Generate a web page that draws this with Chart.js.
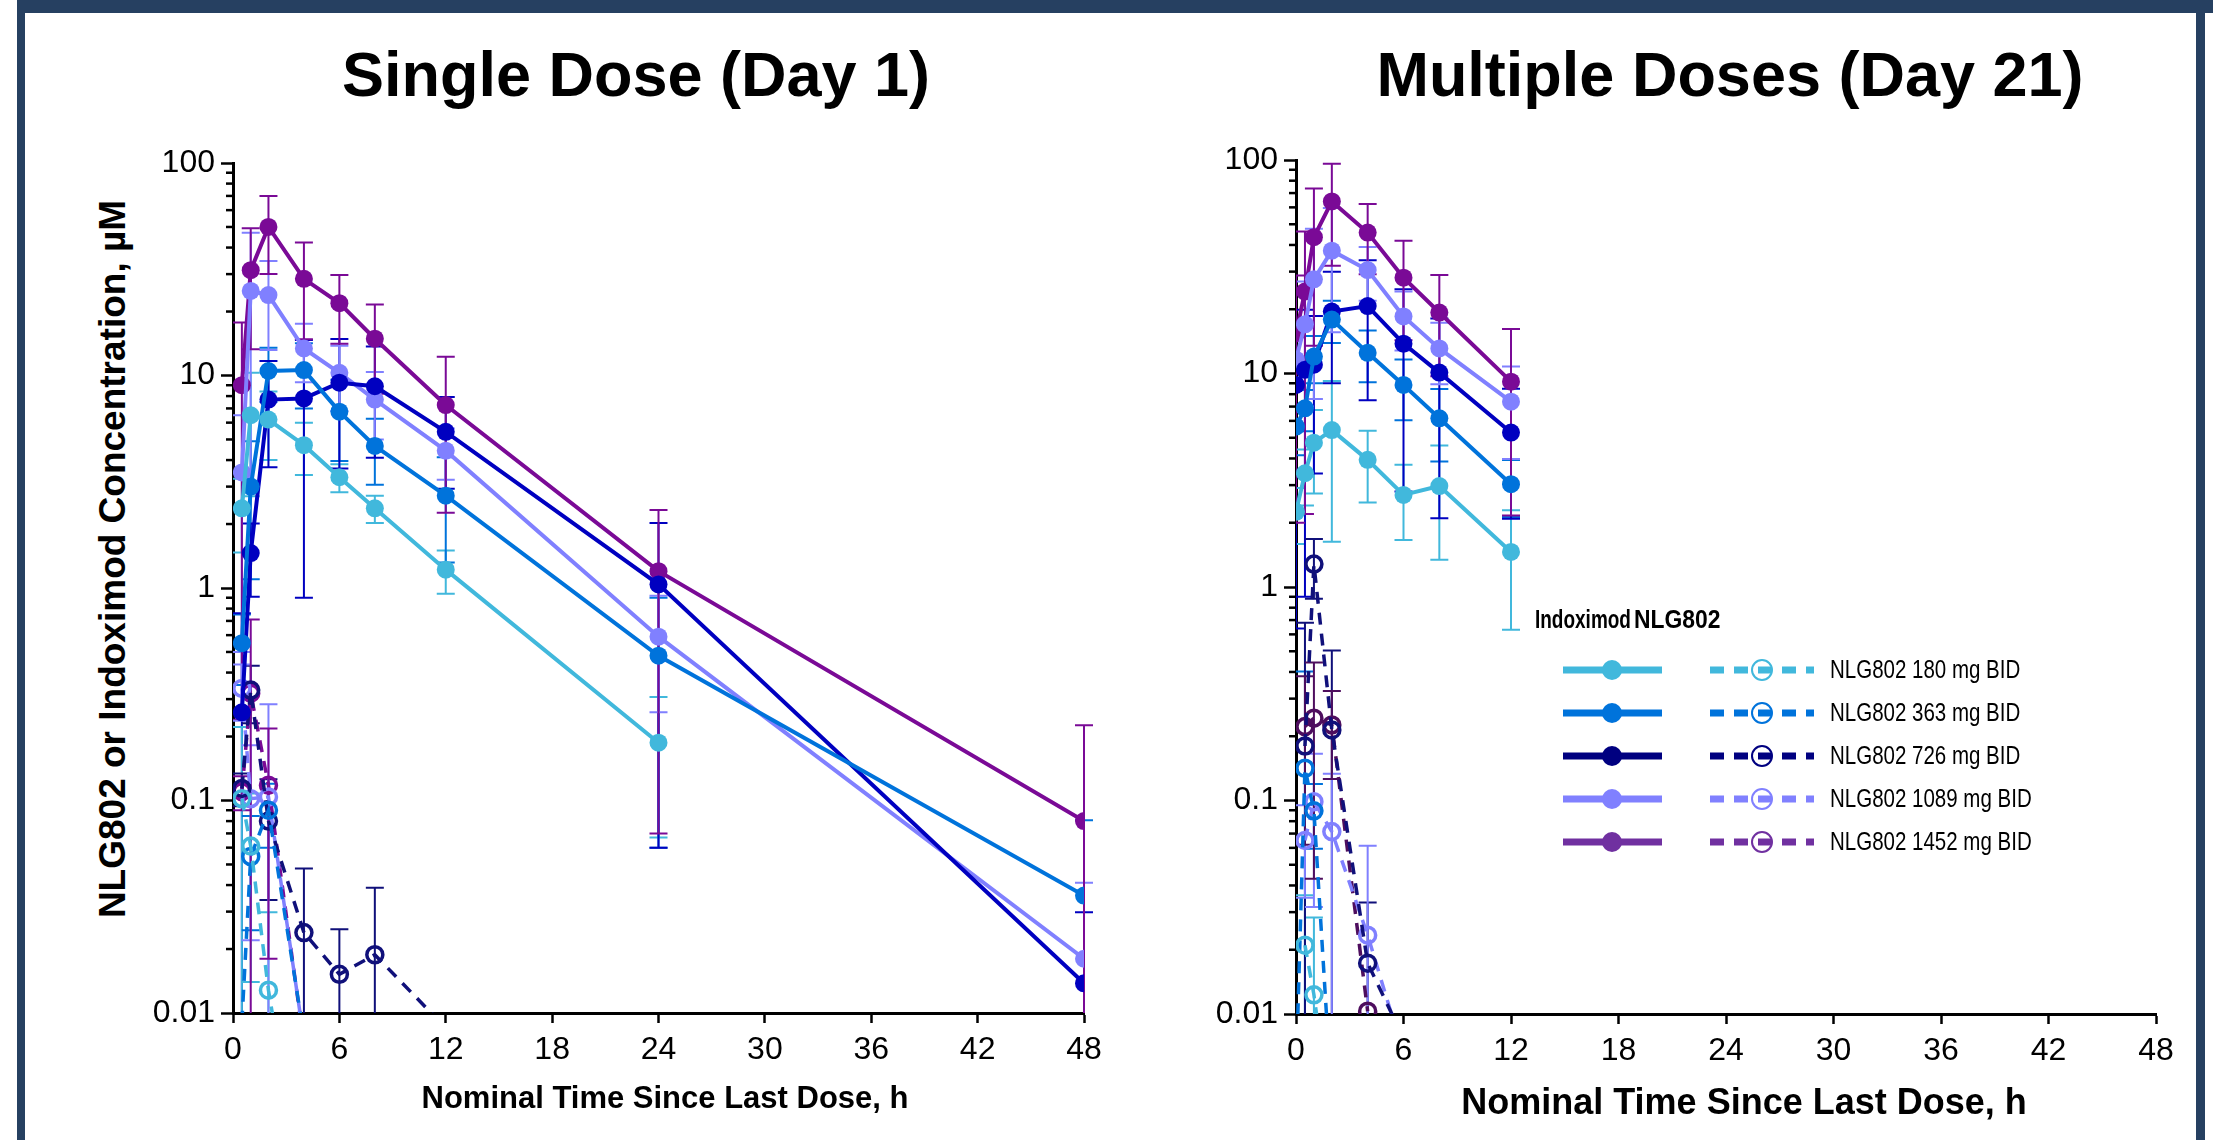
<!DOCTYPE html>
<html>
<head>
<meta charset="utf-8">
<title>NLG802 and Indoximod concentrations</title>
<script src="https://cdn.jsdelivr.net/npm/chart.js@4.4.1/dist/chart.umd.min.js"></script>
<style>
body { margin: 0; width: 2213px; height: 1140px; position: relative; overflow: hidden; background: #fff; font-family: "Liberation Sans", Arial, sans-serif; }
.frame { position: absolute; background: #264061; }
.title { position: absolute; top: 43px; width: 900px; text-align: center; font-weight: bold; font-size: 63px; line-height: 63px; color: #000; white-space: nowrap; }
.ytitle { position: absolute; left: 113px; top: 559px; transform: translate(-50%, -50%) rotate(-90deg); font-weight: bold; font-size: 37px; color: #000; white-space: nowrap; }
.xtitle { position: absolute; transform: translate(-50%, -50%); font-weight: bold; color: #000; white-space: nowrap; }
canvas { position: absolute; top: 0; }
</style>
</head>
<body>
<div class="frame" style="left:17px; top:0; width:2196px; height:13px;"></div>
<div class="frame" style="left:17px; top:0; width:8px; height:1140px;"></div>
<div class="frame" style="left:2196px; top:0; width:9px; height:1140px;"></div>
<div class="title" style="left:186px;">Single Dose (Day 1)</div>
<div class="title" style="left:1280px;">Multiple Doses (Day 21)</div>
<div class="ytitle">NLG802 or Indoximod Concentration, µM</div>
<canvas id="day1" width="1130" height="1140" style="left:0;"></canvas>
<canvas id="day21" width="1073" height="1140" style="left:1140px;"></canvas>
<div class="xtitle" style="left:665px; top:1098px; font-size:31px;">Nominal Time Since Last Dose, h</div>
<div class="xtitle" style="left:1744px; top:1102px; font-size:36px;">Nominal Time Since Last Dose, h</div>
<script>
// sampling times (h)
var timesDay1 = [0.5, 1, 2, 4, 6, 8, 12, 24, 48];
var timesDay21 = [0, 0.5, 1, 2, 4, 6, 8, 12];

var doseLabels = ['NLG802 180 mg BID', 'NLG802 363 mg BID', 'NLG802 726 mg BID', 'NLG802 1089 mg BID', 'NLG802 1452 mg BID'];

var xTicks = [0, 6, 12, 18, 24, 30, 36, 42, 48];
var yMajorTicks = [0.01, 0.1, 1, 10, 100];
var yTickLabels = ['0.01', '0.1', '1', '10', '100'];
var yMinorMantissas = [2, 3, 4, 5, 6, 7, 8, 9];

// Day 1 indoximod, mean (uM)
var ind180Day1 = [2.37, 6.5, 6.2, 4.7, 3.32, 2.37, 1.22, 0.187, null];
var ind363Day1 = [0.55, 3.0, 10.5, 10.6, 6.76, 4.66, 2.72, 0.48, 0.0357];
var ind726Day1 = [0.26, 1.46, 7.7, 7.8, 9.25, 8.9, 5.43, 1.04, 0.0138];
var ind1089Day1 = [3.5, 25, 23.9, 13.4, 10.3, 7.7, 4.43, 0.59, 0.018];
var ind1452Day1 = [9.0, 31.3, 50, 28.5, 21.9, 14.9, 7.26, 1.2, 0.08];
// Day 1 indoximod, SD
var ind180Day1Sd = [0.9, 3.8, 2.2, 1.3, 0.5, 0.35, 0.28, 0.12, null];
var ind363Day1Sd = [0.2, 1.9, 3.0, 3.6, 2.8, 1.6, 1.4, 0.42, 0.045];
var ind726Day1Sd = [0.5, 0.55, 4.0, 6.9, 5.6, 4.8, 2.5, 0.98, 0.016];
var ind1089Day1Sd = [3.0, 22, 10.7, 4.1, 3.5, 2.7, 1.2, 0.33, 0.023];
var ind1452Day1Sd = [8.76, 18, 20, 13.7, 7.8, 6.7, 5.0, 1.13, 0.146];

// Day 1 NLG802, mean (uM)
var nlg180Day1 = [0.102, 0.061, 0.0128, 0.0013, null, null, null, null, null];
var nlg363Day1 = [0.009, 0.0545, 0.09, 0.0078, null, null, null, null, null];
var nlg726Day1 = [0.114, 0.331, 0.08, 0.0239, 0.0152, 0.0188, 0.0085, null, null];
var nlg1089Day1 = [0.337, 0.102, 0.104, 0.0075, null, null, null, null, null];
var nlg1452Day1 = [0.11, 0.32, 0.118, 0.0072, null, null, null, null, null];
// Day 1 NLG802, SD
var nlg180Day1Sd = [0.12, 0.047, 0.017, null, null, null, null, null, null];
var nlg363Day1Sd = [null, 0.03, 0.03, null, null, null, null, null, null];
var nlg726Day1Sd = [0.02, 0.1, 0.046, 0.024, 0.0096, 0.02, null, null, null];
var nlg1089Day1Sd = [0.1, 0.08, 0.18, null, null, null, null, null, null];
var nlg1452Day1Sd = [0.02, 0.39, 0.1, null, null, null, null, null, null];

// Day 21 indoximod, mean (uM)
var ind180Day21 = [2.25, 3.41, 4.74, 5.43, 3.94, 2.7, 2.97, 1.46];
var ind363Day21 = [5.64, 6.87, 12.0, 17.9, 12.5, 8.84, 6.17, 3.03];
var ind726Day21 = [8.84, 10.4, 11.0, 19.5, 20.7, 13.8, 10.1, 5.29];
var ind1089Day21 = [11.6, 17, 27.6, 37.6, 30.5, 18.5, 13.1, 7.38];
var ind1452Day21 = [15.4, 24.2, 43.5, 64, 45.7, 28.1, 19.3, 9.16];
// Day 21 indoximod, SD
var ind180Day21Sd = [0.66, 1.0, 2.0, 3.8, 1.45, 1.04, 1.63, 0.83];
var ind363Day21Sd = [1.5, 1.5, 3.0, 4.0, 3.4, 2.8, 2.3, 0.9];
var ind726Day21Sd = [8.2, 9.5, 7.6, 10.5, 13.2, 11, 8, 3.2];
var ind1089Day21Sd = [5, 10, 20, 22, 8.6, 5.7, 4.2, 3.4];
var ind1452Day21Sd = [13.4, 22, 30, 32, 16.5, 13.8, 9.6, 7];

// Day 21 NLG802, mean (uM)
var nlg180Day21 = [null, 0.021, 0.0123, 0.003, null, null, null, null];
var nlg363Day21 = [0.005, 0.1416, 0.0895, 0.0039, null, null, null, null];
var nlg726Day21 = [null, 0.18, 1.28, 0.214, 0.0173, 0.0077, null, null];
var nlg1089Day21 = [null, 0.065, 0.0987, 0.0715, 0.0234, 0.0065, null, null];
var nlg1452Day21 = [null, 0.222, 0.243, 0.226, 0.0103, null, null, null];
// Day 21 NLG802, SD
var nlg180Day21Sd = [null, 0.015, 0.016, null, null, null, null, null];
var nlg363Day21Sd = [null, 0.26, 0.03, null, null, null, null, null];
var nlg726Day21Sd = [null, 0.5, 0.4, 0.29, 0.016, null, null, null];
var nlg1089Day21Sd = [null, 0.03, 0.067, 0.062, 0.038, null, null, null];
var nlg1452Day21Sd = [null, 0.16, 0.2, 0.1, null, null, null, null];

var indColors = ['#41B8DC', '#0073DB', '#0000C0', '#8080FF', '#7A0A96'];
var nlgColorsDay1 = ['#41B8DC', '#0073DB', '#10107A', '#8080FF', '#7A0A96'];
var nlgColorsDay21 = ['#41B8DC', '#0073DB', '#10107A', '#8080FF', '#4E0E5E'];
var legendColors = ['#41B8DC', '#0073DB', '#000080', '#8080FF', '#7030A0'];

var fontFamily = '"Liberation Sans", Arial, sans-serif';

function makeSeries(label, times, values, errors, color, dashed) {
    var pts = [];
    for (var i = 0; i < times.length; i++) {
        if (values[i] == null) continue;
        pts.push({x: times[i], y: values[i], sd: errors[i]});
    }
    var ds = {
        label: label,
        data: pts,
        borderColor: color,
        backgroundColor: color,
        pointBorderColor: color,
        borderWidth: 4,
        pointRadius: 9,
        pointHoverRadius: 9,
        pointBorderWidth: 0,
        pointBackgroundColor: color,
        fill: false,
        tension: 0
    };
    if (dashed) {
        ds.borderDash = [12, 9];
        ds.borderWidth = 3.5;
        ds.pointBorderWidth = 3.5;
        ds.pointRadius = 8;
        ds.pointBackgroundColor = 'rgba(255,255,255,0)';
    }
    return ds;
}

// error bars (mean +/- SD) drawn under the points
var errorBarPlugin = {
    id: 'errorBars',
    beforeDatasetsDraw: function(chart) {
        var ctx = chart.ctx;
        var area = chart.chartArea;
        var xScale = chart.scales.x;
        var yScale = chart.scales.y;
        ctx.save();
        ctx.beginPath();
        ctx.rect(area.left, area.top - 20, area.right - area.left + 20, area.bottom - area.top + 20);
        ctx.clip();
        chart.data.datasets.forEach(function(ds) {
            ctx.strokeStyle = ds.borderColor;
            ctx.lineWidth = 2;
            ds.data.forEach(function(p) {
                if (p.sd == null) return;
                var x = xScale.getPixelForValue(p.x);
                var yTop = yScale.getPixelForValue(p.y + p.sd);
                var low = p.y - p.sd;
                var yBot = low > 0 ? yScale.getPixelForValue(low) : area.bottom + 40;
                ctx.beginPath();
                ctx.moveTo(x, yTop);
                ctx.lineTo(x, yBot);
                ctx.moveTo(x - 9, yTop);
                ctx.lineTo(x + 9, yTop);
                if (low > 0) {
                    ctx.moveTo(x - 9, yBot);
                    ctx.lineTo(x + 9, yBot);
                }
                ctx.stroke();
            });
        });
        ctx.restore();
    }
};

// short minor ticks on the log axis
var minorTickPlugin = {
    id: 'minorTicks',
    afterDraw: function(chart) {
        var ctx = chart.ctx;
        var y = chart.scales.y;
        var left = chart.chartArea.left;
        ctx.save();
        ctx.strokeStyle = '#000';
        ctx.lineWidth = 2.5;
        for (var k = 0; k < yMajorTicks.length - 1; k++) {
            yMinorMantissas.forEach(function(m) {
                var py = y.getPixelForValue(m * yMajorTicks[k]);
                ctx.beginPath();
                ctx.moveTo(left - 7, py);
                ctx.lineTo(left, py);
                ctx.stroke();
            });
        }
        ctx.restore();
    }
};

function drawText(ctx, text, x, y, font, squeeze) {
    ctx.save();
    ctx.translate(x, y);
    ctx.scale(squeeze, 1);
    ctx.font = font;
    ctx.fillText(text, 0, 0);
    ctx.restore();
}

// two column legend (Indoximod solid / NLG802 dashed)
var legendPlugin = {
    id: 'doseLegend',
    afterDraw: function(chart) {
        var ctx = chart.ctx;
        var headY = 621, rowY = 670, rowGap = 43;
        ctx.save();
        ctx.fillStyle = '#000';
        ctx.textBaseline = 'middle';
        drawText(ctx, 'Indoximod', 395, headY, 'bold 26px ' + fontFamily, 0.73);
        drawText(ctx, 'NLG802', 494, headY, 'bold 26px ' + fontFamily, 0.88);
        for (var i = 0; i < doseLabels.length; i++) {
            var y = rowY + i * rowGap;
            var c = legendColors[i];
            ctx.strokeStyle = c;
            ctx.fillStyle = c;
            ctx.lineWidth = 7;
            ctx.setLineDash([]);
            ctx.beginPath();
            ctx.moveTo(423, y);
            ctx.lineTo(522, y);
            ctx.stroke();
            ctx.beginPath();
            ctx.arc(472, y, 10, 0, Math.PI * 2);
            ctx.fill();
            ctx.setLineDash([14, 10]);
            ctx.beginPath();
            ctx.moveTo(570, y);
            ctx.lineTo(674, y);
            ctx.stroke();
            ctx.setLineDash([]);
            ctx.lineWidth = 2;
            ctx.beginPath();
            ctx.arc(622, y, 10, 0, Math.PI * 2);
            ctx.stroke();
            ctx.fillStyle = '#000';
            drawText(ctx, doseLabels[i], 690, y + 1, '25px ' + fontFamily, 0.82);
        }
        ctx.restore();
    }
};

function makeOptions(axisWidth, axisHeight, padRight, padTop) {
    return {
        responsive: false,
        animation: false,
        devicePixelRatio: 1,
        layout: {padding: {left: 0, right: padRight, top: padTop, bottom: 0}},
        plugins: {legend: {display: false}, tooltip: {enabled: false}, title: {display: false}},
        scales: {
            x: {
                type: 'linear',
                min: 0,
                max: 48,
                afterBuildTicks: function(scale) {
                    scale.ticks = xTicks.map(function(v) { return {value: v}; });
                },
                afterFit: function(scale) { scale.height = axisHeight; },
                ticks: {
                    autoSkip: false,
                    maxRotation: 0,
                    padding: 8,
                    color: '#000',
                    font: {family: fontFamily, size: 32}
                },
                grid: {drawOnChartArea: false, drawTicks: true, tickLength: 10, tickWidth: 2.5, tickColor: '#000'},
                border: {display: true, color: '#000', width: 3}
            },
            y: {
                type: 'logarithmic',
                min: 0.01,
                max: 100,
                afterBuildTicks: function(scale) {
                    scale.ticks = yMajorTicks.map(function(v) { return {value: v}; });
                },
                afterFit: function(scale) { scale.width = axisWidth; },
                ticks: {
                    autoSkip: false,
                    padding: 6,
                    color: '#000',
                    font: {family: fontFamily, size: 32},
                    callback: function(value, index) { return yTickLabels[index]; }
                },
                grid: {drawOnChartArea: false, drawTicks: true, tickLength: 12, tickWidth: 2.5, tickColor: '#000'},
                border: {display: true, color: '#000', width: 3}
            }
        }
    };
}

var day1Sets = [
    makeSeries('Indoximod ' + doseLabels[0], timesDay1, ind180Day1, ind180Day1Sd, indColors[0], false),
    makeSeries('Indoximod ' + doseLabels[1], timesDay1, ind363Day1, ind363Day1Sd, indColors[1], false),
    makeSeries('Indoximod ' + doseLabels[2], timesDay1, ind726Day1, ind726Day1Sd, indColors[2], false),
    makeSeries('Indoximod ' + doseLabels[3], timesDay1, ind1089Day1, ind1089Day1Sd, indColors[3], false),
    makeSeries('Indoximod ' + doseLabels[4], timesDay1, ind1452Day1, ind1452Day1Sd, indColors[4], false),
    makeSeries('NLG802 ' + doseLabels[0], timesDay1, nlg180Day1, nlg180Day1Sd, nlgColorsDay1[0], true),
    makeSeries('NLG802 ' + doseLabels[1], timesDay1, nlg363Day1, nlg363Day1Sd, nlgColorsDay1[1], true),
    makeSeries('NLG802 ' + doseLabels[2], timesDay1, nlg726Day1, nlg726Day1Sd, nlgColorsDay1[2], true),
    makeSeries('NLG802 ' + doseLabels[3], timesDay1, nlg1089Day1, nlg1089Day1Sd, nlgColorsDay1[3], true),
    makeSeries('NLG802 ' + doseLabels[4], timesDay1, nlg1452Day1, nlg1452Day1Sd, nlgColorsDay1[4], true)
];

var day21Sets = [
    makeSeries('Indoximod ' + doseLabels[0], timesDay21, ind180Day21, ind180Day21Sd, indColors[0], false),
    makeSeries('Indoximod ' + doseLabels[1], timesDay21, ind363Day21, ind363Day21Sd, indColors[1], false),
    makeSeries('Indoximod ' + doseLabels[2], timesDay21, ind726Day21, ind726Day21Sd, indColors[2], false),
    makeSeries('Indoximod ' + doseLabels[3], timesDay21, ind1089Day21, ind1089Day21Sd, indColors[3], false),
    makeSeries('Indoximod ' + doseLabels[4], timesDay21, ind1452Day21, ind1452Day21Sd, indColors[4], false),
    makeSeries('NLG802 ' + doseLabels[0], timesDay21, nlg180Day21, nlg180Day21Sd, nlgColorsDay21[0], true),
    makeSeries('NLG802 ' + doseLabels[1], timesDay21, nlg363Day21, nlg363Day21Sd, nlgColorsDay21[1], true),
    makeSeries('NLG802 ' + doseLabels[2], timesDay21, nlg726Day21, nlg726Day21Sd, nlgColorsDay21[2], true),
    makeSeries('NLG802 ' + doseLabels[3], timesDay21, nlg1089Day21, nlg1089Day21Sd, nlgColorsDay21[3], true),
    makeSeries('NLG802 ' + doseLabels[4], timesDay21, nlg1452Day21, nlg1452Day21Sd, nlgColorsDay21[4], true)
];

new Chart(document.getElementById('day1').getContext('2d'), {
    type: 'line',
    data: {datasets: day1Sets},
    options: makeOptions(233, 127, 46, 163),
    plugins: [errorBarPlugin, minorTickPlugin]
});

new Chart(document.getElementById('day21').getContext('2d'), {
    type: 'line',
    data: {datasets: day21Sets},
    options: makeOptions(156, 126, 57, 160),
    plugins: [errorBarPlugin, minorTickPlugin, legendPlugin]
});
</script>
</body>
</html>
